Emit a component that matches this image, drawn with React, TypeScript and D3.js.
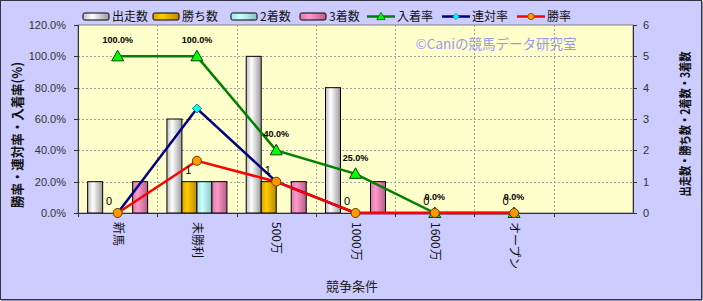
import React from "react";
import * as d3 from "d3";

const categories = ["新馬", "未勝利", "500万", "1000万", "1600万", "オープン", ""];
const runs = [1, 3, 5, 4, 0, 0];
const wins = [0, 1, 1, 0, 0, 0];
const seconds = [0, 1, 0, 0, 0, 0];
const thirds = [1, 1, 1, 1, 0, 0];
const winRate = [0, 0.333, 0.2, 0, 0, 0];
const quinellaRate = [0, 0.667, 0.2, 0, 0, 0];
const placeRate = [1, 1, 0.4, 0.25, 0, 0];
const leftTicks = [0, 0.2, 0.4, 0.6, 0.8, 1.0, 1.2];
const rightTicks = [0, 1, 2, 3, 4, 5, 6];
const barSeries = ["出走数", "勝ち数", "2着数", "3着数"];
const lineSeries = ["入着率", "連対率", "勝率"];

const W = 703, H = 301;
const PX0 = 78, PX1 = 633, PY0 = 25, PY1 = 213;
const FONT = "'Liberation Sans', 'Noto Sans CJK JP', sans-serif";
const JFONT = "'Noto Sans CJK JP', 'Liberation Sans', sans-serif";

const barGrads = [
  ["#bdbdbd", "#ffffff", "#9a9a9a"],
  ["#d9a400", "#ffcc00", "#b88a00"],
  ["#a8e0e0", "#ccffff", "#88c4c4"],
  ["#d97aa8", "#ff99cc", "#b85c88"],
];
const lineColors = ["#008000", "#000080", "#ff0000"];
const markerFills = ["#00ff00", "#00ffff", "#ff9900"];
const legendSwatchX = [83, 153, 231, 300, 367, 442, 517];

function Marker({ kind, x, y }: { kind: number; x: number; y: number }) {
  if (kind === 0) {
    const s = 6;
    return <path d={`M${x},${y - s} L${x + s},${y + s * 0.75} L${x - s},${y + s * 0.75} Z`} fill={markerFills[0]} stroke="#004400" strokeWidth={1} />;
  }
  if (kind === 1) {
    const s = 4.5;
    return <path d={`M${x},${y - s} L${x + s},${y} L${x},${y + s} L${x - s},${y} Z`} fill={markerFills[1]} stroke="#006666" strokeWidth={0.8} />;
  }
  return <circle cx={x} cy={y} r={4.5} fill={markerFills[2]} stroke="#6b3a00" strokeWidth={1} />;
}

export default function App() {
  const x = d3.scaleBand<string>().domain(categories).range([PX0, PX1]).padding(0);
  const xi = d3.scaleBand<string>().domain(barSeries).range([0, x.bandwidth()]).paddingInner(0).paddingOuter(0.643);
  const yL = d3.scaleLinear().domain([0, 1.2]).range([PY1, PY0]);
  const yR = d3.scaleLinear().domain([0, 6]).range([PY1, PY0]);
  const barData = [runs, wins, seconds, thirds];
  const lineData = [placeRate, quinellaRate, winRate];
  const fmt = d3.format(".1%");
  const cats = categories.slice(0, runs.length);

  return (
    <svg width={W} height={H} style={{ display: "block", position: "absolute", left: 0, top: 0 }}>
      <defs>
        {barGrads.map((g, i) => (
          <linearGradient key={i} id={`bg${i}`} x1="0" x2="1" y1="0" y2="0">
            <stop offset="0%" stopColor={g[0]} />
            <stop offset="35%" stopColor={g[1]} />
            <stop offset="100%" stopColor={g[2]} />
          </linearGradient>
        ))}
      </defs>
      <rect x={0.5} y={0.5} width={W - 2} height={H - 2} fill="#ccccff" stroke="#333344" strokeWidth={1} />
      <line x1={W - 1} y1={1} x2={W - 1} y2={H - 1} stroke="#333344" />
      <line x1={1} y1={H - 1} x2={W - 1} y2={H - 1} stroke="#333344" />
      {/* plot */}
      <rect x={PX0} y={PY0} width={PX1 - PX0} height={PY1 - PY0} fill="#ffffcc" stroke="#808080" strokeWidth={1} />
      {leftTicks.slice(1, -1).map((t) => (
        <line key={t} x1={PX0} x2={PX1} y1={Math.round(yL(t)) + 0.5} y2={Math.round(yL(t)) + 0.5} stroke="#a0a0a0" strokeDasharray="2,2" />
      ))}
      {categories.slice(1).map((c) => (
        <line key={c + "g"} x1={Math.round(x(c)!) + 0.5} x2={Math.round(x(c)!) + 0.5} y1={PY0} y2={PY1} stroke="#a0a0a0" strokeDasharray="2,2" />
      ))}
      {/* watermark */}
      <text x={496} y={49} textAnchor="middle" fontFamily={JFONT} fontSize={13.5} fill="#9999ee">©Caniの競馬データ研究室</text>
      {/* bars */}
      {barData.map((arr, si) =>
        arr.map((v, ci) =>
          v > 0 ? (
            <rect key={`${si}-${ci}`} x={x(cats[ci])! + xi(barSeries[si])!} y={yR(v)} width={xi.bandwidth()} height={yR(0) - yR(v)} fill={`url(#bg${si})`} stroke="#000" strokeWidth={1} />
          ) : null
        )
      )}
      {/* axes */}
      <line x1={PX0 + 0.5} x2={PX0 + 0.5} y1={PY0} y2={PY1} stroke="#333" />
      <line x1={PX1 + 0.5} x2={PX1 + 0.5} y1={PY0} y2={PY1} stroke="#333" />
      <line x1={PX0} x2={PX1} y1={PY1 + 0.5} y2={PY1 + 0.5} stroke="#333" />
      {leftTicks.map((t) => (
        <g key={"lt" + t}>
          <line x1={PX0 - 4} x2={PX0} y1={Math.round(yL(t)) + 0.5} y2={Math.round(yL(t)) + 0.5} stroke="#333" />
          <text x={66} y={yL(t) + 4} textAnchor="end" fontFamily={FONT} fontSize={11} fill="#333">{fmt(t)}</text>
        </g>
      ))}
      {rightTicks.map((t) => (
        <g key={"rt" + t}>
          <line x1={PX1} x2={PX1 + 4} y1={Math.round(yR(t)) + 0.5} y2={Math.round(yR(t)) + 0.5} stroke="#333" />
          <text x={643} y={yR(t) + 4} textAnchor="start" fontFamily={FONT} fontSize={11} fill="#333">{t}</text>
        </g>
      ))}
      {categories.map((c) => (
        <line key={c + "xt"} x1={Math.round(x(c)!) + 0.5} x2={Math.round(x(c)!) + 0.5} y1={PY1} y2={PY1 + 4} stroke="#333" />
      ))}
      {categories.map((c) => (
        <text key={c + "xl"} transform={`translate(${x(c)! + x.bandwidth() / 2 - 4},222) rotate(90)`} fontFamily={JFONT} fontSize={12} fill="#111">{c}</text>
      ))}
      {/* lines */}
      {lineData.map((arr, li) => {
        const gen = d3.line<number>().x((_, i) => x(cats[i])! + x.bandwidth() / 2).y((v) => yL(v));
        return <path key={"l" + li} d={gen(arr)!} fill="none" stroke={lineColors[li]} strokeWidth={2.5} />;
      })}
      {lineData.map((arr, li) =>
        arr.map((v, i) => <Marker key={`m${li}-${i}`} kind={li} x={x(cats[i])! + x.bandwidth() / 2} y={yL(v)} />)
      )}
      {/* data labels */}
      {placeRate.map((v, i) => (
        <text key={"pl" + i} x={x(cats[i])! + x.bandwidth() / 2} y={yL(v) - 13} textAnchor="middle" fontFamily={FONT} fontSize={9} fontWeight="bold" fill="#000">{fmt(v)}</text>
      ))}
      {wins.map((v, i) => (
        <text key={"wl" + i} x={x(cats[i])! + xi(barSeries[1])! + xi.bandwidth() / 2 - 1} y={yR(v) - 8} textAnchor="middle" fontFamily={FONT} fontSize={11} fill="#000">{v}</text>
      ))}
      {/* legend */}
      {barSeries.map((s, i) => (
        <g key={"lg" + s}>
          <rect x={legendSwatchX[i]} y={13} width={26} height={7} rx={1.5} fill={`url(#bg${i})`} stroke="#000" strokeWidth={1} />
          <text x={legendSwatchX[i] + 29} y={21} fontFamily={JFONT} fontSize={12} fill="#111">{s}</text>
        </g>
      ))}
      {lineSeries.map((s, i) => {
        const lx = legendSwatchX[4 + i];
        return (
          <g key={"ll" + s}>
            <line x1={lx} x2={lx + 28} y1={16.5} y2={16.5} stroke={lineColors[i]} strokeWidth={2.5} />
            <g transform={`translate(${lx + 14},16.5) scale(0.7) translate(${-(lx + 14)},-16.5)`}>
              <Marker kind={i} x={lx + 14} y={16.5} />
            </g>
            <text x={lx + 30} y={21} fontFamily={JFONT} fontSize={12} fill="#111">{s}</text>
          </g>
        );
      })}
      {/* axis titles */}
      <text transform="translate(22,135) rotate(-90)" textAnchor="middle" fontFamily={JFONT} fontSize={13} fontWeight="bold" fill="#111" textLength={146} lengthAdjust="spacingAndGlyphs">勝率・連対率・入着率(%)</text>
      <text transform="translate(690,124) rotate(-90)" textAnchor="middle" fontFamily={JFONT} fontSize={12.5} fontWeight="bold" fill="#111" textLength={145} lengthAdjust="spacingAndGlyphs">出走数・勝ち数・2着数・3着数</text>
      <text x={352} y={291} textAnchor="middle" fontFamily={JFONT} fontSize={13} fill="#222">競争条件</text>
    </svg>
  );
}
